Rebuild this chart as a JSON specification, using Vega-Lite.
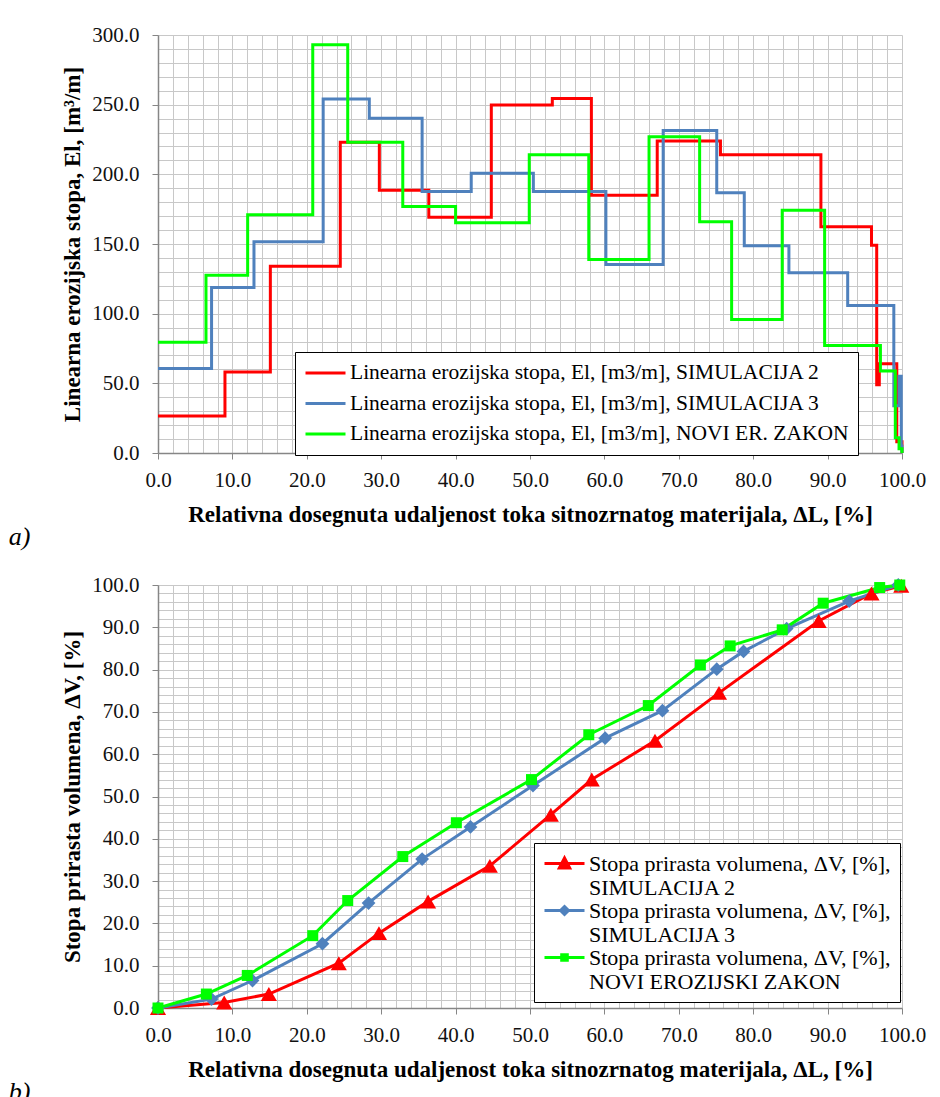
{
  "$schema": "https://vega.github.io/schema/vega-lite/v6.json",
  "background": "white",
  "padding": {"left": 8, "top": 24, "right": 5, "bottom": 0},
  "spacing": 24,
  "config": {
    "font": "Liberation Serif",
    "view": {"stroke": null},
    "style": {
      "guide-label": {"font": "Liberation Serif", "fontSize": 21},
      "guide-title": {"font": "Liberation Serif", "fontSize": 23, "fontWeight": "bold"}
    },
    "axis": {
      "labelFontSize": 21, "labelColor": "#111111",
      "titleFontSize": 23, "titleFontWeight": "bold", "titleColor": "#000000",
      "gridColor": "#c8c8c8", "gridWidth": 1, "domainColor": "#868686", "domainWidth": 1.5,
      "tickColor": "#868686", "tickSize": 6, "labelOverlap": false, "labelBound": false, "labelFlush": false
    },
    "axisX": {"labelPadding": 10, "titlePadding": 13},
    "axisY": {"labelPadding": 13, "titlePadding": 7},
    "legend": {"labelFont": "Liberation Serif", "labelColor": "#000000"},
    "title": {"font": "Liberation Serif", "fontStyle": "italic", "fontWeight": "normal", "fontSize": 26, "color": "#000000"}
  },
  "resolve": {"scale": {"color": "independent"}, "legend": {"color": "independent"}},
  "vconcat": [
    {
      "width": 744,
      "height": 418,
      "title": {"text": "a)", "orient": "bottom", "anchor": "start", "frame": "bounds", "dx": -53, "offset": -2},
      "data": {"values": [
        {"serija": "SIMULACIJA 2", "dL": 0, "El": 26.5},
        {"serija": "SIMULACIJA 2", "dL": 9.0, "El": 58.1},
        {"serija": "SIMULACIJA 2", "dL": 15.1, "El": 134.1},
        {"serija": "SIMULACIJA 2", "dL": 24.5, "El": 223},
        {"serija": "SIMULACIJA 2", "dL": 29.75, "El": 188.6},
        {"serija": "SIMULACIJA 2", "dL": 36.4, "El": 169.2},
        {"serija": "SIMULACIJA 2", "dL": 44.8, "El": 249.8},
        {"serija": "SIMULACIJA 2", "dL": 53.0, "El": 254.5},
        {"serija": "SIMULACIJA 2", "dL": 58.25, "El": 185},
        {"serija": "SIMULACIJA 2", "dL": 67.1, "El": 224},
        {"serija": "SIMULACIJA 2", "dL": 75.6, "El": 214},
        {"serija": "SIMULACIJA 2", "dL": 89.1, "El": 162.3},
        {"serija": "SIMULACIJA 2", "dL": 95.9, "El": 149.1},
        {"serija": "SIMULACIJA 2", "dL": 96.6, "El": 49},
        {"serija": "SIMULACIJA 2", "dL": 96.95, "El": 64},
        {"serija": "SIMULACIJA 2", "dL": 99.3, "El": 8},
        {"serija": "SIMULACIJA 2", "dL": 100, "El": 0},
        {"serija": "SIMULACIJA 3", "dL": 0, "El": 60.7},
        {"serija": "SIMULACIJA 3", "dL": 7.2, "El": 118.8},
        {"serija": "SIMULACIJA 3", "dL": 12.9, "El": 151.6},
        {"serija": "SIMULACIJA 3", "dL": 22.2, "El": 254},
        {"serija": "SIMULACIJA 3", "dL": 28.4, "El": 240.2},
        {"serija": "SIMULACIJA 3", "dL": 35.5, "El": 187.6},
        {"serija": "SIMULACIJA 3", "dL": 42.1, "El": 200.8},
        {"serija": "SIMULACIJA 3", "dL": 50.45, "El": 187.6},
        {"serija": "SIMULACIJA 3", "dL": 60.2, "El": 135.3},
        {"serija": "SIMULACIJA 3", "dL": 67.9, "El": 231.4},
        {"serija": "SIMULACIJA 3", "dL": 75.1, "El": 186.7},
        {"serija": "SIMULACIJA 3", "dL": 78.8, "El": 148.7},
        {"serija": "SIMULACIJA 3", "dL": 84.8, "El": 129.3},
        {"serija": "SIMULACIJA 3", "dL": 92.7, "El": 105.9},
        {"serija": "SIMULACIJA 3", "dL": 98.9, "El": 34},
        {"serija": "SIMULACIJA 3", "dL": 99.6, "El": 55},
        {"serija": "SIMULACIJA 3", "dL": 99.9, "El": 5},
        {"serija": "SIMULACIJA 3", "dL": 100, "El": 0},
        {"serija": "NOVI ER. ZAKON", "dL": 0, "El": 79.4},
        {"serija": "NOVI ER. ZAKON", "dL": 6.45, "El": 127.6},
        {"serija": "NOVI ER. ZAKON", "dL": 12.05, "El": 171},
        {"serija": "NOVI ER. ZAKON", "dL": 20.8, "El": 293},
        {"serija": "NOVI ER. ZAKON", "dL": 25.5, "El": 223},
        {"serija": "NOVI ER. ZAKON", "dL": 32.9, "El": 176.9},
        {"serija": "NOVI ER. ZAKON", "dL": 40.0, "El": 165.2},
        {"serija": "NOVI ER. ZAKON", "dL": 49.9, "El": 214},
        {"serija": "NOVI ER. ZAKON", "dL": 57.9, "El": 138.9},
        {"serija": "NOVI ER. ZAKON", "dL": 66.0, "El": 226.9},
        {"serija": "NOVI ER. ZAKON", "dL": 72.8, "El": 165.9},
        {"serija": "NOVI ER. ZAKON", "dL": 77.1, "El": 95.9},
        {"serija": "NOVI ER. ZAKON", "dL": 83.9, "El": 174.2},
        {"serija": "NOVI ER. ZAKON", "dL": 89.6, "El": 77.2},
        {"serija": "NOVI ER. ZAKON", "dL": 97.1, "El": 58.8},
        {"serija": "NOVI ER. ZAKON", "dL": 99.1, "El": 11},
        {"serija": "NOVI ER. ZAKON", "dL": 99.6, "El": 3},
        {"serija": "NOVI ER. ZAKON", "dL": 100, "El": 0}
      ]},
      "mark": {"type": "line", "interpolate": "step-after", "strokeWidth": 3},
      "encoding": {
        "x": {
          "field": "dL", "type": "quantitative",
          "scale": {"domain": [0, 100], "nice": false, "zero": false},
          "axis": {
            "title": "Relativna dosegnuta udaljenost toka sitnozrnatog materijala, ΔL, [%]",
            "labelFont": "Liberation Serif", "titleFont": "Liberation Serif",
            "values": [0,2,4,6,8,10,12,14,16,18,20,22,24,26,28,30,32,34,36,38,40,42,44,46,48,50,52,54,56,58,60,62,64,66,68,70,72,74,76,78,80,82,84,86,88,90,92,94,96,98,100],
            "labelExpr": "datum.value % 10 === 0 ? format(datum.value, '.1f') : ''",
            "tickOpacity": {"condition": {"test": "datum.value % 10 === 0", "value": 1}, "value": 0}
          }
        },
        "y": {
          "field": "El", "type": "quantitative",
          "scale": {"domain": [0, 300], "nice": false},
          "axis": {
            "title": "Linearna erozijska stopa, El, [m³/m]",
            "labelFont": "Liberation Serif", "titleFont": "Liberation Serif",
            "values": [0,10,20,30,40,50,60,70,80,90,100,110,120,130,140,150,160,170,180,190,200,210,220,230,240,250,260,270,280,290,300],
            "labelExpr": "datum.value % 50 === 0 ? format(datum.value, '.1f') : ''",
            "tickOpacity": {"condition": {"test": "datum.value % 50 === 0", "value": 1}, "value": 0}
          }
        },
        "color": {
          "field": "serija", "type": "nominal",
          "scale": {"domain": ["SIMULACIJA 2", "SIMULACIJA 3", "NOVI ER. ZAKON"], "range": ["#ff0000", "#4f81bd", "#00ff00"]},
          "legend": {
            "title": null, "orient": "none", "legendX": 137, "legendY": 317,
            "labelExpr": "'Linearna erozijska stopa, El, [m3/m], ' + datum.label",
            "labelFont": "Liberation Serif", "labelFontSize": 21.5, "labelOffset": 3, "labelLimit": 700,
            "symbolType": "stroke", "symbolSize": 1600, "symbolStrokeWidth": 3,
            "clipHeight": 24, "rowPadding": 6.5, "padding": 9,
            "strokeColor": "#000000", "fillColor": "#ffffff"
          }
        }
      }
    },
    {
      "width": 744,
      "height": 423,
      "title": {"text": "b)", "orient": "bottom", "anchor": "start", "frame": "bounds", "dx": -53, "offset": -2},
      "data": {"values": [
        {"serija": "SIMULACIJA 2", "dL": 0, "dV": 0},
        {"serija": "SIMULACIJA 2", "dL": 8.9, "dV": 1.3},
        {"serija": "SIMULACIJA 2", "dL": 14.9, "dV": 3.3},
        {"serija": "SIMULACIJA 2", "dL": 24.3, "dV": 10.6},
        {"serija": "SIMULACIJA 2", "dL": 29.7, "dV": 17.7},
        {"serija": "SIMULACIJA 2", "dL": 36.3, "dV": 25.2},
        {"serija": "SIMULACIJA 2", "dL": 44.6, "dV": 33.6},
        {"serija": "SIMULACIJA 2", "dL": 52.8, "dV": 45.7},
        {"serija": "SIMULACIJA 2", "dL": 58.3, "dV": 54.0},
        {"serija": "SIMULACIJA 2", "dL": 66.8, "dV": 63.2},
        {"serija": "SIMULACIJA 2", "dL": 75.4, "dV": 74.5},
        {"serija": "SIMULACIJA 2", "dL": 88.8, "dV": 91.5},
        {"serija": "SIMULACIJA 2", "dL": 95.9, "dV": 98.0},
        {"serija": "SIMULACIJA 2", "dL": 99.9, "dV": 99.8},
        {"serija": "SIMULACIJA 3", "dL": 0, "dV": 0},
        {"serija": "SIMULACIJA 3", "dL": 7.2, "dV": 2.1},
        {"serija": "SIMULACIJA 3", "dL": 12.7, "dV": 6.5},
        {"serija": "SIMULACIJA 3", "dL": 22.1, "dV": 15.2},
        {"serija": "SIMULACIJA 3", "dL": 28.3, "dV": 24.8},
        {"serija": "SIMULACIJA 3", "dL": 35.5, "dV": 35.2},
        {"serija": "SIMULACIJA 3", "dL": 42.0, "dV": 42.8},
        {"serija": "SIMULACIJA 3", "dL": 50.4, "dV": 52.6},
        {"serija": "SIMULACIJA 3", "dL": 60.1, "dV": 63.8},
        {"serija": "SIMULACIJA 3", "dL": 67.8, "dV": 70.3},
        {"serija": "SIMULACIJA 3", "dL": 75.1, "dV": 80.1},
        {"serija": "SIMULACIJA 3", "dL": 78.7, "dV": 84.3},
        {"serija": "SIMULACIJA 3", "dL": 84.5, "dV": 89.7},
        {"serija": "SIMULACIJA 3", "dL": 92.9, "dV": 96.2},
        {"serija": "SIMULACIJA 3", "dL": 99.5, "dV": 100},
        {"serija": "NOVI EROZIJSKI ZAKON", "dL": 0, "dV": 0},
        {"serija": "NOVI EROZIJSKI ZAKON", "dL": 6.5, "dV": 3.3},
        {"serija": "NOVI EROZIJSKI ZAKON", "dL": 12.0, "dV": 7.7},
        {"serija": "NOVI EROZIJSKI ZAKON", "dL": 20.8, "dV": 17.1},
        {"serija": "NOVI EROZIJSKI ZAKON", "dL": 25.5, "dV": 25.4},
        {"serija": "NOVI EROZIJSKI ZAKON", "dL": 32.9, "dV": 35.8},
        {"serija": "NOVI EROZIJSKI ZAKON", "dL": 40.1, "dV": 43.8},
        {"serija": "NOVI EROZIJSKI ZAKON", "dL": 50.2, "dV": 54.0},
        {"serija": "NOVI EROZIJSKI ZAKON", "dL": 57.9, "dV": 64.6},
        {"serija": "NOVI EROZIJSKI ZAKON", "dL": 65.9, "dV": 71.5},
        {"serija": "NOVI EROZIJSKI ZAKON", "dL": 72.9, "dV": 81.1},
        {"serija": "NOVI EROZIJSKI ZAKON", "dL": 76.9, "dV": 85.6},
        {"serija": "NOVI EROZIJSKI ZAKON", "dL": 83.9, "dV": 89.4},
        {"serija": "NOVI EROZIJSKI ZAKON", "dL": 89.4, "dV": 95.7},
        {"serija": "NOVI EROZIJSKI ZAKON", "dL": 97.0, "dV": 99.4},
        {"serija": "NOVI EROZIJSKI ZAKON", "dL": 99.7, "dV": 100}
      ]},
      "encoding": {
        "x": {
          "field": "dL", "type": "quantitative",
          "scale": {"domain": [0, 100], "nice": false, "zero": false},
          "axis": {
            "title": "Relativna dosegnuta udaljenost toka sitnozrnatog materijala, ΔL, [%]",
            "labelFont": "Liberation Serif", "titleFont": "Liberation Serif",
            "values": [0,2,4,6,8,10,12,14,16,18,20,22,24,26,28,30,32,34,36,38,40,42,44,46,48,50,52,54,56,58,60,62,64,66,68,70,72,74,76,78,80,82,84,86,88,90,92,94,96,98,100],
            "labelExpr": "datum.value % 10 === 0 ? format(datum.value, '.1f') : ''",
            "tickOpacity": {"condition": {"test": "datum.value % 10 === 0", "value": 1}, "value": 0}
          }
        },
        "y": {
          "field": "dV", "type": "quantitative",
          "scale": {"domain": [0, 100], "nice": false},
          "axis": {
            "title": "Stopa prirasta volumena, ΔV, [%]",
            "labelFont": "Liberation Serif", "titleFont": "Liberation Serif",
            "values": [0,2,4,6,8,10,12,14,16,18,20,22,24,26,28,30,32,34,36,38,40,42,44,46,48,50,52,54,56,58,60,62,64,66,68,70,72,74,76,78,80,82,84,86,88,90,92,94,96,98,100],
            "labelExpr": "datum.value % 10 === 0 ? format(datum.value, '.1f') : ''",
            "tickOpacity": {"condition": {"test": "datum.value % 10 === 0", "value": 1}, "value": 0}
          }
        },
        "color": {
          "field": "serija", "type": "nominal",
          "scale": {"domain": ["SIMULACIJA 2", "SIMULACIJA 3", "NOVI EROZIJSKI ZAKON"], "range": ["#ff0000", "#4f81bd", "#00ff00"]},
          "legend": {
            "title": null, "orient": "none", "legendX": 376, "legendY": 258,
            "labelExpr": "['Stopa prirasta volumena, ΔV, [%],', datum.label]",
            "labelFont": "Liberation Serif", "labelFontSize": 22, "labelOffset": 13, "labelLimit": 700,
            "symbolSize": 400, "symbolStrokeWidth": 3, "symbolOffset": 10,
            "rowPadding": -3, "padding": 9,
            "strokeColor": "#000000", "fillColor": "#ffffff",
            "encode": {
              "symbols": {"update": {
                "shape": {"signal": "datum.value === 'SIMULACIJA 2' ? 'M-2,0H2M0,-0.56L0.52,0.44L-0.52,0.44Z' : datum.value === 'SIMULACIJA 3' ? 'M-2,0H2M0,-0.4L0.4,0L0,0.4L-0.4,0Z' : 'M-2,0H2M-0.28,-0.28H0.28V0.28H-0.28Z'"},
                "stroke": {"signal": "datum.value === 'SIMULACIJA 2' ? '#ff0000' : datum.value === 'SIMULACIJA 3' ? '#4f81bd' : '#00ff00'"},
                "fill": {"signal": "datum.value === 'SIMULACIJA 2' ? '#ff0000' : datum.value === 'SIMULACIJA 3' ? '#4f81bd' : '#00ff00'"},
                "strokeWidth": {"value": 3},
                "opacity": {"value": 1}
              }}
            }
          }
        }
      },
      "layer": [
        {"mark": {"type": "line", "strokeWidth": 3}},
        {
          "transform": [{"filter": {"field": "serija", "equal": "SIMULACIJA 2"}}],
          "mark": {"type": "point", "shape": "triangle-up", "filled": true, "size": 260, "opacity": 1}
        },
        {
          "transform": [{"filter": {"field": "serija", "equal": "SIMULACIJA 3"}}],
          "mark": {"type": "point", "shape": "diamond", "filled": true, "size": 190, "opacity": 1}
        },
        {
          "transform": [{"filter": {"field": "serija", "equal": "NOVI EROZIJSKI ZAKON"}}],
          "mark": {"type": "point", "shape": "square", "filled": true, "size": 121, "opacity": 1}
        }
      ]
    }
  ]
}
